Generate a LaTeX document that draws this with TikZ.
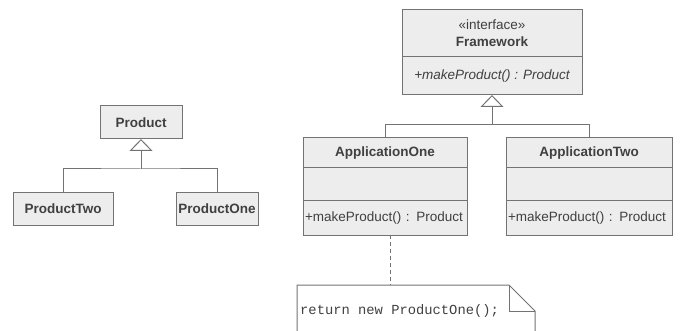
\documentclass[tikz,border=0pt]{standalone}
\usepackage{fontspec}
\setmainfont{Liberation Sans}
\setmonofont{Liberation Mono}
\usetikzlibrary{arrows.meta,positioning}

\definecolor{umlfill}{HTML}{EDEDED}
\definecolor{umlline}{HTML}{737373}
\definecolor{umltext}{HTML}{404040}
\newcommand{\umlfont}{\fontsize{13.5}{17}\selectfont}

\tikzset{
  clsbox/.style={draw=umlline, fill=umlfill, line width=1pt, inner sep=0pt, outer sep=0pt, text=umltext, font=\umlfont},
  clsname/.style={clsbox, font=\umlfont\bfseries},
  clsmeth/.style={clsbox, align=left, inner xsep=2pt},
  umledge/.style={draw=umlline, line width=1pt},
  inherit/.style={umledge, -{Triangle[length=12pt, width=23pt, fill=white]}},
}

\begin{document}
\begin{tikzpicture}[x=1pt, y=-1pt]
   \useasboundingbox (0, 0) rectangle (685, 331);
   \clip (0, 0) rectangle (685, 331);
   % product hierarchy
   \node [clsname, minimum width=82pt, minimum height=33pt] (product) at (141, 122.5) {Product};
   \node [clsname, minimum width=100pt, minimum height=32pt] (ptwo) at (63, 209) {ProductTwo};
   \node [clsname, minimum width=82pt, minimum height=32pt] (pone) at (217, 209) {ProductOne};
   \coordinate (pbus) at (141, 169);
   \draw [umledge] (ptwo.north) |- (pbus) -| (pone.north);
   \draw [inherit] (pbus) -- (product.south);

   % framework interface
   \node [clsbox, minimum width=180pt, minimum height=47pt, align=center] (fwname) at (492, 33.5) {«interface»\\\textbf{Framework}};
   \node [clsbox, minimum width=180pt, minimum height=38pt, below=0pt of fwname, font=\umlfont\itshape] (fwmeth) {+makeProduct() : Product};

   % applications
   \node [clsname, minimum width=164pt, minimum height=30pt] (aonename) at (385, 153) {ApplicationOne};
   \node [clsbox, minimum width=164pt, minimum height=33pt, below=0pt of aonename] (aoneattr) {};
   \node [clsmeth, text width=160pt, minimum height=34pt, below=0pt of aoneattr] (aonemeth) {+makeProduct() : Product};
   \node [clsname, minimum width=166pt, minimum height=30pt] (atwoname) at (589, 153) {ApplicationTwo};
   \node [clsbox, minimum width=166pt, minimum height=33pt, below=0pt of atwoname] (atwoattr) {};
   \node [clsmeth, text width=162pt, minimum height=34pt, below=0pt of atwoattr] (atwometh) {+makeProduct() : Product};
   \coordinate (fbus) at (492, 124.5);
   \draw [umledge] (aonename.north) |- (fbus) -| (atwoname.north);
   \draw [inherit] (fbus) -- (fwmeth.south);

   % note
   \draw [umledge, fill=white] (297, 285) -- (509, 285) -- (535, 311) -- (535, 345) -- (297, 345) -- cycle;
   \draw [umledge] (509, 285) -- (509, 311) -- (535, 311);
   \node [anchor=west, inner sep=0pt, text=umltext, font=\ttfamily\fontsize{13.8}{16}\selectfont] (notetext) at (300, 311) {return new ProductOne();};
   \coordinate (notetop) at (390, 285);
   \draw [umledge, dash pattern=on 4pt off 3pt] (notetop |- aonemeth.south) -- (notetop);
\end{tikzpicture}
\end{document}
